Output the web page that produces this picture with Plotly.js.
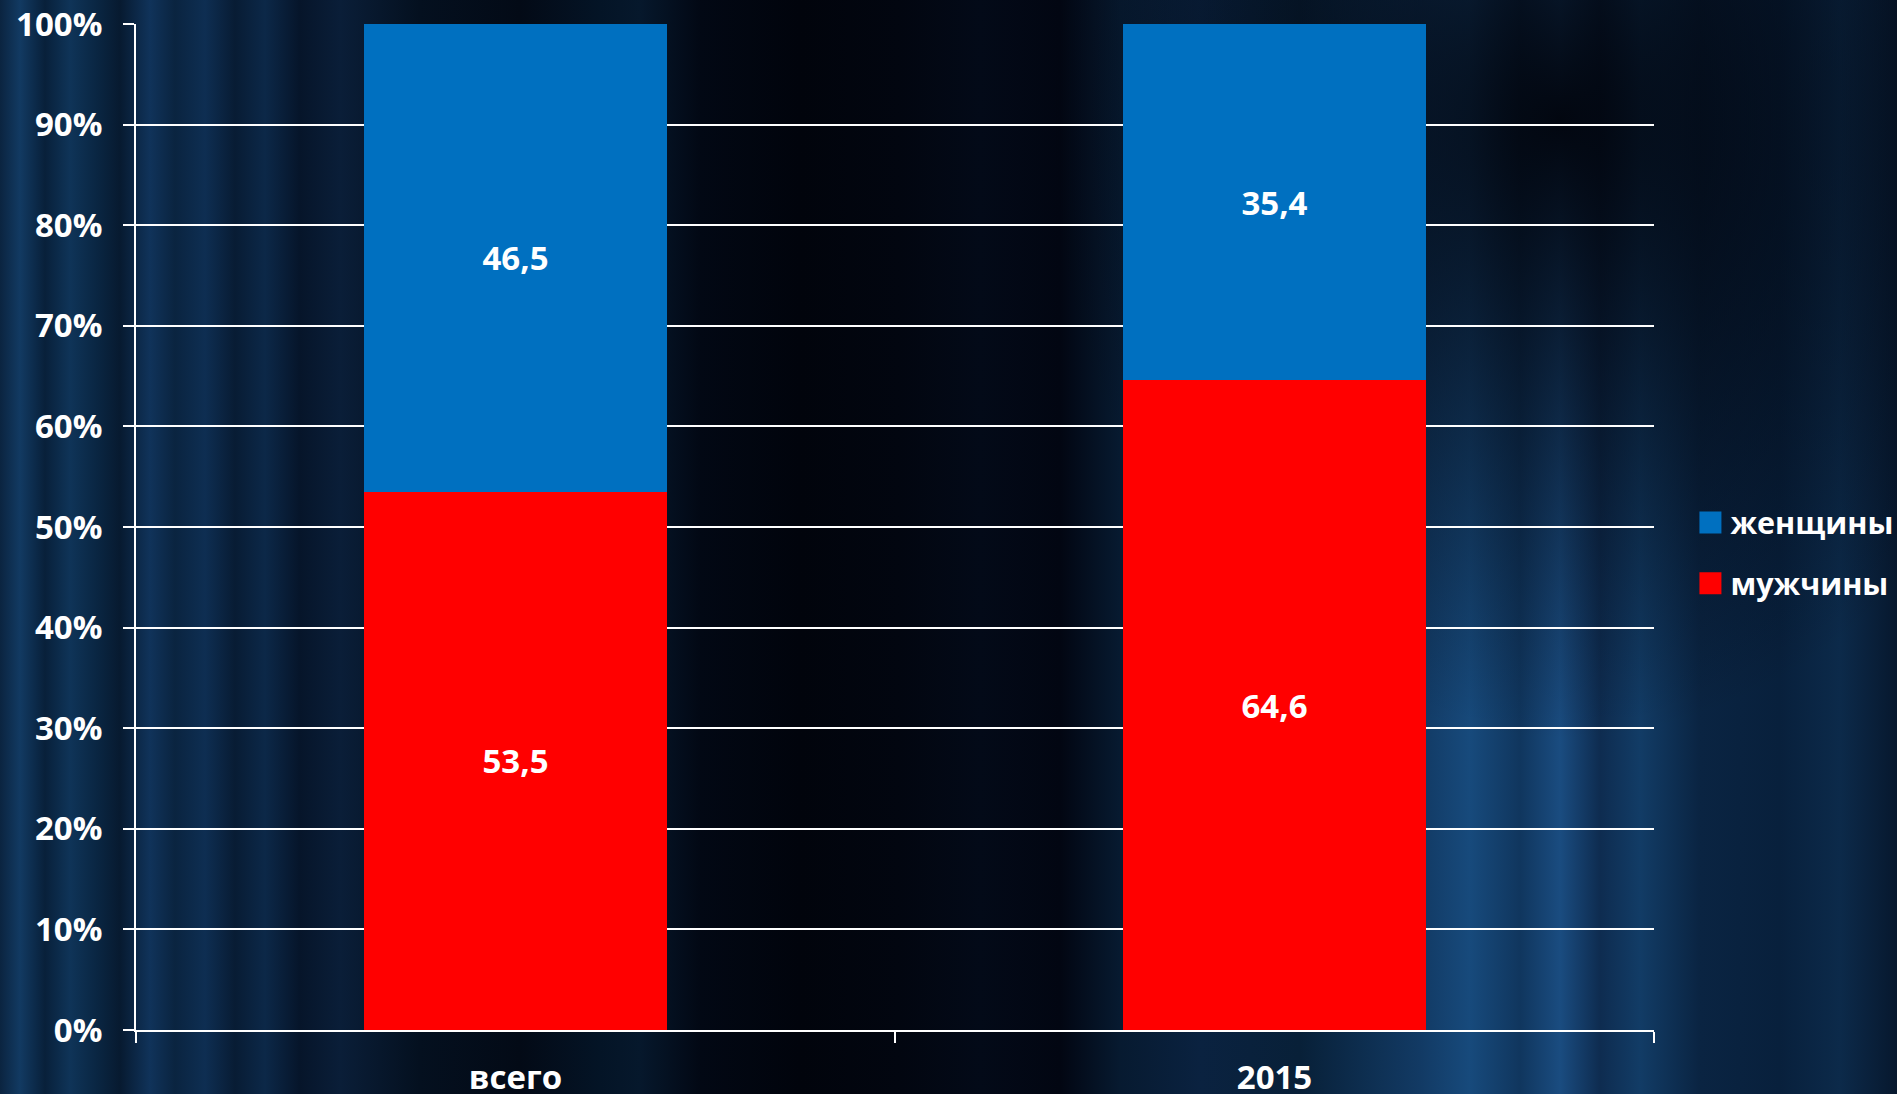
<!DOCTYPE html>
<html>
<head>
<meta charset="utf-8">
<script src="https://cdn.plot.ly/plotly-3.0.1.min.js"></script>
<style>
html,body{margin:0;padding:0;width:1897px;height:1094px;overflow:hidden;}
body{
  background:
    radial-gradient(ellipse 520px 620px at 1560px 120px, rgba(1,3,10,0.95), rgba(1,3,10,0) 100%),
    linear-gradient(to right,
      #0b2440 0px, #123a62 20px, #08203a 45px, #0f3458 70px, #0a2744 95px, #071a30 120px,
      #10335a 150px, #0a2440 175px, #0e2e52 205px, #081c34 235px, #0c2848 265px, #06152a 300px,
      #0a1e38 340px, #04101f 420px, #030a16 520px, #041426 600px, #06182c 640px, #020814 700px,
      #01040c 800px, #020610 900px, #030a18 980px, #020612 1060px, #071a30 1120px,
      #0a2240 1200px, #082038 1300px, #123a64 1420px, #174a7c 1470px, #10365e 1520px,
      #1a4c80 1560px, #0e2c50 1600px, #123c66 1640px, #0a2442 1700px, #08203c 1780px,
      #0c2a4a 1840px, #07182e 1897px);
}
#chart{width:1897px;height:1094px;}
</style>
</head>
<body>
<div id="chart"></div>
<script>
var categories = ["всего", "2015"];
var men = [53.5, 64.6];
var women = [46.5, 35.4];
var yTicks = [0, 10, 20, 30, 40, 50, 60, 70, 80, 90, 100];

var FONT = "Open Sans, Noto Sans, sans-serif";

var traces = [
  {
    type: "bar", name: "мужчины", x: categories, y: men,
    marker: {color: "#FF0000"},
    texttemplate: "%{y:.1f}", textposition: "inside", insidetextanchor: "middle",
    textfont: {family: FONT, size: 33, color: "#FFFFFF", weight: "bold"},
    legendgroup: "m", legendrank: 2, hoverinfo: "none"
  },
  {
    type: "bar", name: "женщины", x: categories, y: women,
    marker: {color: "#0070C0"},
    texttemplate: "%{y:.1f}", textposition: "inside", insidetextanchor: "middle",
    textfont: {family: FONT, size: 33, color: "#FFFFFF", weight: "bold"},
    legendgroup: "w", legendrank: 1, hoverinfo: "none"
  }
];

var layout = {
  width: 1897, height: 1094,
  paper_bgcolor: "rgba(0,0,0,0)",
  plot_bgcolor: "rgba(0,0,0,0)",
  margin: {l: 136, r: 243, t: 24, b: 64, pad: 0, autoexpand: false},
  barmode: "stack",
  bargap: 0.602,
  separators: ", ",
  font: {family: FONT, color: "#FFFFFF", size: 33, weight: "bold"},
  showlegend: true,
  legend: {
    x: 1.024, xanchor: "left", y: 0.474, yanchor: "middle",
    traceorder: "grouped", tracegroupgap: 18,
    font: {family: FONT, size: 30.5, color: "#FFFFFF", weight: "bold"},
    bgcolor: "rgba(0,0,0,0)", itemwidth: 30
  },
  xaxis: {
    type: "category",
    showgrid: false,
    showline: true, linecolor: "#FFFFFF", linewidth: 2,
    ticks: "outside", tickson: "boundaries", ticklen: 11, tickcolor: "#FFFFFF", tickwidth: 2,
    tickfont: {family: FONT, size: 33, color: "#FFFFFF", weight: "bold"},
    ticklabelstandoff: 17,
    fixedrange: true
  },
  yaxis: {
    range: [0, 100],
    tickmode: "array", tickvals: yTicks, ticktext: yTicks.map(function(v){return v + "%";}),
    showgrid: true, gridcolor: "#FFFFFF", gridwidth: 2,
    showline: true, linecolor: "#FFFFFF", linewidth: 2,
    ticks: "outside", ticklen: 11, tickcolor: "#FFFFFF", tickwidth: 2,
    tickfont: {family: FONT, size: 33, color: "#FFFFFF", weight: "bold"},
    ticklabelstandoff: 14,
    zeroline: false,
    fixedrange: true
  }
};

Plotly.newPlot("chart", traces, layout, {staticPlot: true, displayModeBar: false}).then(function(){
  document.querySelectorAll("#chart .legendpoints path").forEach(function(p){
    p.setAttribute("d", "M11,11H-11V-11H11Z");
  });
});
</script>
</body>
</html>
